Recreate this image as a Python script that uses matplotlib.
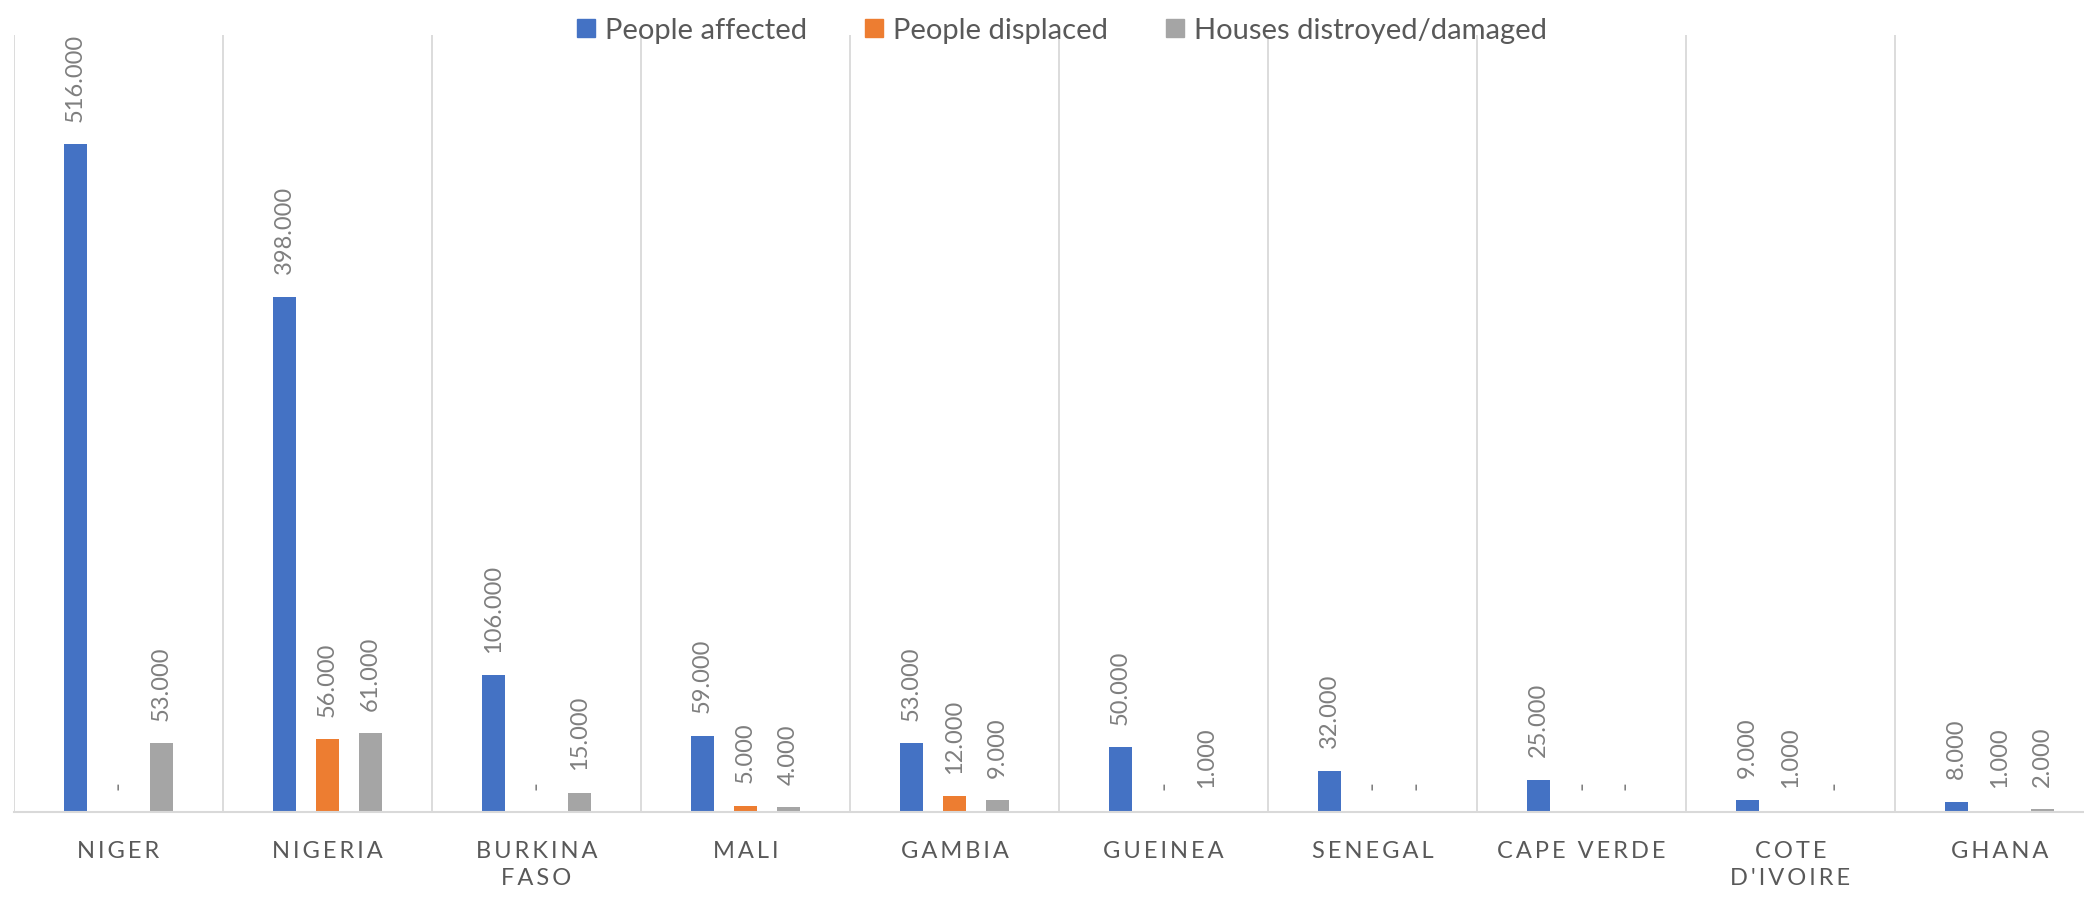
import numpy as np
import matplotlib
matplotlib.use("Agg")
import matplotlib.pyplot as plt
from matplotlib.patches import Patch

plt.rcParams['font.family'] = ['Lato', 'DejaVu Sans']

# data
countries = ["NIGER", "NIGERIA", "BURKINA\nFASO", "MALI", "GAMBIA", "GUEINEA",
             "SENEGAL", "CAPE VERDE", "COTE\nD'IVOIRE", "GHANA"]
affected = [516000, 398000, 106000, 59000, 53000, 50000, 32000, 25000, 9000, 8000]
displaced = [0, 56000, 0, 5000, 12000, 0, 0, 0, 1000, 1000]
houses = [53000, 61000, 15000, 4000, 9000, 1000, 0, 0, 0, 2000]
series_names = ["People affected", "People displaced", "Houses distroyed/damaged"]
colors = ["#4472C4", "#ED7D31", "#A5A5A5"]


def fmt(v):
    # excel style: dot as thousands separator, dash for zero
    return f"{v:,}".replace(",", ".") if v else "-"


def spaced(s):
    # wide letter spacing like the original axis labels
    return "\n".join("\u2009".join(line) for line in s.split("\n"))


W, H = 2084, 898
fig = plt.figure(figsize=(W / 100, H / 100), dpi=100)
ax = fig.add_axes([14 / W, (H - 812) / H, 2090 / W, (812 - 35) / H])

x = np.arange(len(countries))
width = 0.11
offset = 0.206
for i, (vals, name, col) in enumerate(zip([affected, displaced, houses], series_names, colors)):
    bars = ax.bar(x + (i - 1) * offset, vals, width, color=col, label=name)
    ax.bar_label(bars, labels=[fmt(v) for v in vals], padding=16, rotation=90,
                 color="#7F7F7F", fontsize=17)

ax.set_xlim(-0.5, len(countries) - 0.5)
ax.set_ylim(0, 600000)
ax.set_yticks([])
ax.set_xticks(x)
ax.set_xticklabels([spaced(c) for c in countries], color="#595959", fontsize=17,
                   linespacing=1.35)
ax.set_xticks(np.arange(-0.5, len(countries), 1), minor=True)
ax.tick_params(axis="x", which="both", length=0, pad=21)
ax.grid(which="minor", axis="x", color="#D9D9D9", lw=1.3)
ax.set_axisbelow(True)
for s in ["top", "left", "right"]:
    ax.spines[s].set_visible(False)
ax.spines["bottom"].set_color("#D9D9D9")
ax.spines["bottom"].set_linewidth(1.5)

handles = [Patch(color=c, label=n) for c, n in zip(colors, series_names)]
fig.legend(handles=handles, loc="upper center", bbox_to_anchor=(1062 / W, 1.0), ncol=3,
           frameon=False, fontsize=21, handlelength=0.6, handleheight=0.6,
           handletextpad=0.35, columnspacing=2.0, labelcolor="#595959",
           borderaxespad=0.2)

fig.savefig("out.png", dpi=100)
